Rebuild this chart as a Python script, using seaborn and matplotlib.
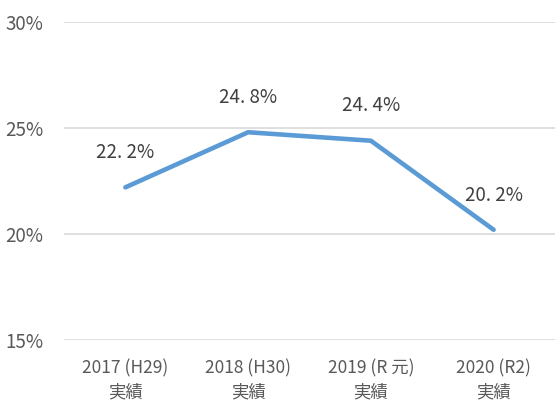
import matplotlib
matplotlib.use("Agg")
import matplotlib.pyplot as plt
import seaborn as sns
import pandas as pd

categories = ["2017 (H29)\n実績", "2018 (H30)\n実績", "2019 (R 元)\n実績", "2020 (R2)\n実績"]
values = [22.2, 24.8, 24.4, 20.2]
yticks = [15, 20, 25, 30]

sns.set_theme(style="white")
plt.rcParams['font.family'] = ['Noto Sans CJK JP', 'DejaVu Sans']

df = pd.DataFrame({"cat": categories, "val": values})

fig = plt.figure(figsize=(5.55, 4.05), dpi=100)
ax = fig.add_axes([64/555, 1-340/405, 1-64/555, (340-22)/405])

sns.lineplot(data=df, x="cat", y="val", sort=False, ax=ax, color="#5b9bd5",
             linewidth=3.3, solid_capstyle="round", solid_joinstyle="round", zorder=3)

ax.set_ylim(15, 30)
ax.set_xlim(-0.5, 3.5)
ax.set_yticks(yticks)
ax.set_yticklabels([f"{t}%" for t in yticks], fontsize=13.5, color="#595959")
ax.yaxis.grid(True, color="#d9d9d9", linewidth=1.2)
ax.xaxis.grid(False)
for s in ax.spines.values():
    s.set_visible(False)
ax.tick_params(axis="y", length=0, pad=15)
ax.tick_params(axis="x", length=0, pad=14, labelsize=12.5, labelcolor="#595959")
ax.set_xlabel("")
ax.set_ylabel("")
for lbl in ax.get_xticklabels():
    lbl.set_linespacing(1.4)

for i, v in enumerate(values):
    txt = f"{v:.1f}%".replace(".", ". ")
    ax.annotate(txt, (i, v), xytext=(0, 25), textcoords="offset points",
                ha="center", va="center", fontsize=13.5, color="#404040")

fig.savefig("out.png", dpi=100)
